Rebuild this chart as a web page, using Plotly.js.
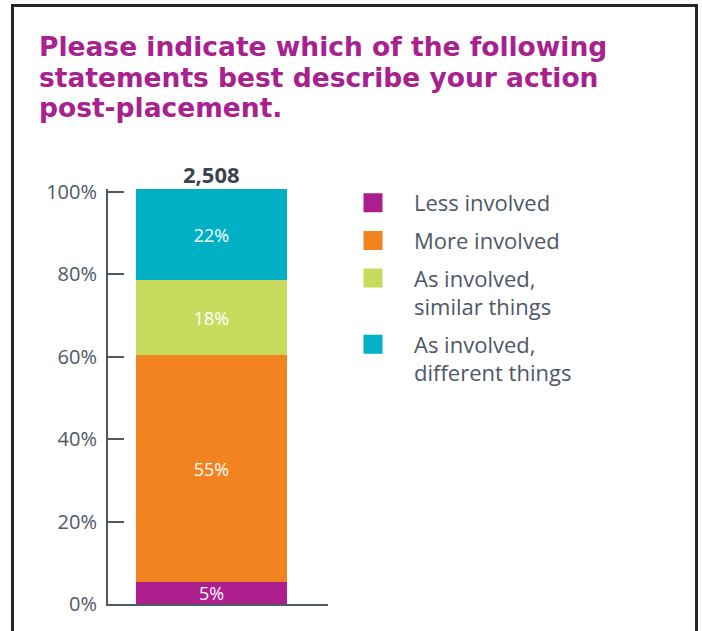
<!DOCTYPE html>
<html>
<head>
<meta charset="utf-8">
<script src="https://cdn.plot.ly/plotly-3.0.1.min.js"></script>
<style>
  html, body { margin: 0; padding: 0; background: #ffffff; overflow: hidden; }
  #wrap { position: relative; width: 702px; height: 631px; }
  #chart { position: absolute; left: 0; top: 0; width: 702px; height: 631px; }
  #frame { position: absolute; left: 11px; top: 4px; width: 687px; height: 700px;
           box-sizing: border-box; border: 3px solid #262626; border-bottom: none;
           pointer-events: none; }
</style>
</head>
<body>
<div id="wrap">
  <div id="chart"></div>
  <div id="frame"></div>
</div>
<script>
// ---- data ----
const titleLines = [
  "Please indicate which of the following",
  "statements best describe your action",
  "post-placement."
];
const categories = [0];
const totalLabel = "2,508";
const seriesNames = ["Less involved", "More involved", "As involved,<br>similar things", "As involved,<br>different things"];
const lessInvolved = [5.3];
const moreInvolved = [55.1];
const asInvolvedSimilar = [18.2];
const asInvolvedDifferent = [22.1];
const tickValues = [0, 20, 40, 60, 80, 100];
const tickLabels = ["0%", "20%", "40%", "60%", "80%", "100%"];

const colors = ["#ad1f8d", "#f38221", "#c9db5d", "#00b1c6"];
const seriesValues = [lessInvolved, moreInvolved, asInvolvedSimilar, asInvolvedDifferent];

// ---- layout geometry ----
const W = 702, H = 631;
const M = { l: 108, r: 374, t: 189, b: 27 };
const PW = W - M.l - M.r, PH = H - M.t - M.b;
const pxPerUnit = (604 - 192) / 100;          // 0% tick at 604px, 100% tick at 192px
const yTop = (H - M.b - M.t) / pxPerUnit;     // axis top value
const px2x = px => (px - M.l) / PW;
const py2y = py => (H - M.b - py) / PH;

const traces = [];
seriesValues.forEach((vals, i) => {
  traces.push({
    type: "bar",
    x: categories,
    y: vals,
    width: 0.6,
    name: seriesNames[i],
    showlegend: false,
    marker: { color: colors[i], line: { width: 0 } },
    text: vals.map(v => Math.round(v) + "%"),
    textposition: "inside",
    insidetextanchor: "middle",
    textangle: 0,
    insidetextfont: { family: "Open Sans", size: 18, color: "#ffffff" },
    hoverinfo: "skip"
  });
});
// legend entries (large square swatches)
seriesValues.forEach((vals, i) => {
  traces.push({
    type: "scatter",
    mode: "markers",
    x: [null],
    y: [null],
    name: seriesNames[i],
    legendgroup: "g" + i,
    showlegend: true,
    marker: { symbol: "square", size: 16, color: colors[i], line: { color: colors[i], width: 3 } },
    hoverinfo: "skip"
  });
});

const totals = categories.map((c, k) => seriesValues.reduce((s, v) => s + v[k], 0));

const titleCenters = [46, 77, 108];
const annotations = titleLines.map((t, i) => ({
  text: t,
  xref: "paper", yref: "paper",
  x: px2x(37), y: py2y(titleCenters[i]),
  xanchor: "left", yanchor: "middle",
  showarrow: false,
  font: { family: "DejaVu Sans", size: 26.5, color: "#a8218e", weight: "bold" }
}));
categories.forEach((c, k) => {
  annotations.push({
    text: "<b>" + totalLabel + "</b>",
    xref: "x", yref: "paper",
    x: c, y: py2y(H - M.b - totals[k] * pxPerUnit),
    xanchor: "center", yanchor: "bottom",
    yshift: -2,
    showarrow: false,
    font: { family: "Open Sans", size: 22, color: "#3b4351" }
  });
});

const axisColor = "#4f5866";
const layout = {
  width: W, height: H,
  margin: M,
  paper_bgcolor: "#ffffff",
  plot_bgcolor: "#ffffff",
  barmode: "stack",
  showlegend: true,
  uniformtext: { mode: "show", minsize: 18 },
  xaxis: {
    range: [-0.411, 0.463],
    showline: true, linecolor: axisColor, linewidth: 2,
    showgrid: false, zeroline: false,
    showticklabels: false, ticks: "",
    fixedrange: true
  },
  yaxis: {
    range: [0, yTop],
    showline: true, linecolor: axisColor, linewidth: 2,
    showgrid: false, zeroline: false,
    tickmode: "array", tickvals: tickValues, ticktext: tickLabels,
    ticks: "inside", ticklen: 16, tickwidth: 2, tickcolor: axisColor,
    ticklabelstandoff: 5,
    tickfont: { family: "Open Sans", size: 20, color: "#4f5866" },
    fixedrange: true
  },
  legend: {
    x: px2x(332), y: py2y(182),
    xanchor: "left", yanchor: "top",
    traceorder: "grouped",
    tracegroupgap: 6,
    valign: "top",
    itemwidth: 72,
    font: { family: "Open Sans", size: 22, color: "#4f5866" },
    bgcolor: "rgba(0,0,0,0)"
  },
  annotations: annotations
};

Plotly.newPlot("chart", traces, layout, { displayModeBar: false, staticPlot: true });
</script>
</body>
</html>
